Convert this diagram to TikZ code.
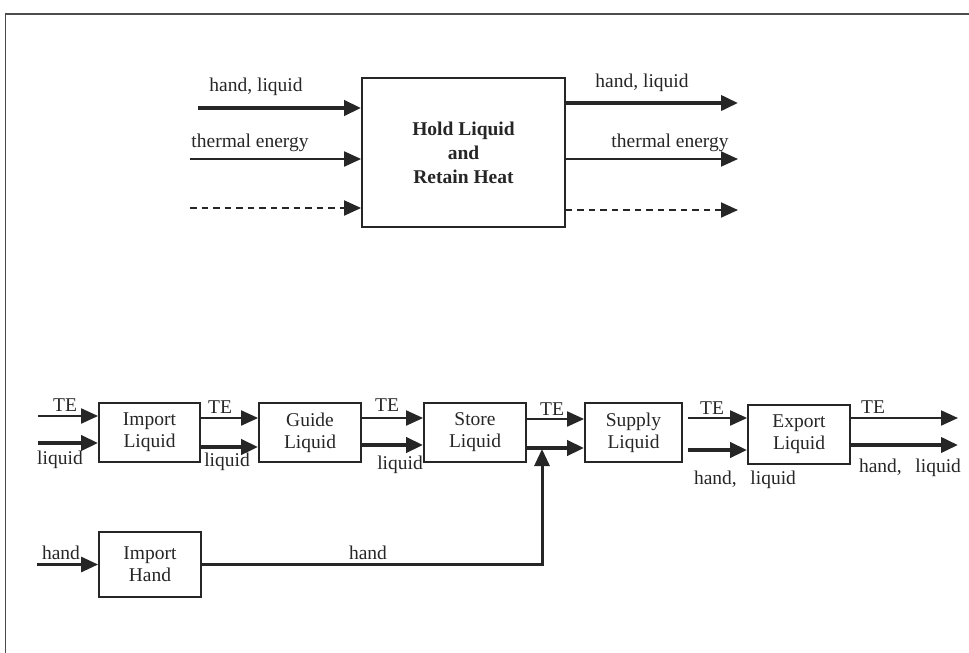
\documentclass[tikz,border=0pt]{standalone}
\usepackage{fontspec}
\setmainfont{Liberation Serif}
\usetikzlibrary{arrows.meta}
\begin{document}
\begin{tikzpicture}[x=1pt,y=-1pt,
  txt/.style={font=\fontsize{19.5}{22}\selectfont, text=black!85},
  box/.style={txt, draw=black!85, line width=1.8pt, align=center, inner sep=0pt},
  lbl/.style={txt, inner sep=0pt},
  tipk/.style={-{Triangle[length=17pt,width=15pt]}},
  flowthin/.style={tipk, line width=2pt, draw=black!85},
  flowthick/.style={tipk, line width=3.8pt, draw=black!85},
  flowdash/.style={tipk, line width=2pt, draw=black!85, dash pattern=on 6.5pt off 5pt}
]
\useasboundingbox (0,0) rectangle (969,653);
% frame
\coordinate (f1) at (969,14);
\coordinate (f2) at (5.5,14);
\coordinate (f3) at (5.5,653);
\draw[black!70, line width=1.6pt] (f1) -- (f2) -- (f3);

% ---------- top function ----------
\node[box, font=\bfseries\fontsize{19.5}{24}\selectfont, minimum width=203pt, minimum height=149pt] (hold) at (463.5,152.5) {Hold Liquid\\and\\Retain Heat};

\coordinate (a1) at (198,108);
\coordinate (a2) at (190,159);
\coordinate (a3) at (190,208);
\draw[flowthick] (a1) -- (a1 -| hold.west);
\draw[flowthin] (a2) -- (a2 -| hold.west);
\draw[flowdash] (a3) -- (a3 -| hold.west);
\node[lbl] (ta1) at (256,87) {hand, liquid};
\node[lbl] (ta2) at (250,143) {thermal energy};

\coordinate (b1) at (738,103);
\coordinate (b2) at (738,159);
\coordinate (b3) at (738,210);
\draw[flowthick] (hold.east |- b1) -- (b1);
\draw[flowthin] (hold.east |- b2) -- (b2);
\draw[flowdash] (hold.east |- b3) -- (b3);
\node[lbl] (tb1) at (642,83) {hand, liquid};
\node[lbl] (tb2) at (670,143) {thermal energy};

% ---------- lower chain ----------
\node[box, minimum width=101pt, minimum height=59pt] (imp) at (149.5,432.5) {Import\\Liquid};
\node[box, minimum width=102pt, minimum height=59pt] (gui) at (310,432.5) {Guide\\Liquid};
\node[box, minimum width=102pt, minimum height=59pt] (sto) at (475,432.5) {Store\\Liquid};
\node[box, minimum width=97pt, minimum height=59pt] (sup) at (633.5,432.5) {Supply\\Liquid};
\node[box, minimum width=102pt, minimum height=59pt] (exp) at (799,434.5) {Export\\Liquid};
\node[box, minimum width=102pt, minimum height=65pt] (ih) at (150,564.5) {Import\\Hand};

% inputs to Import Liquid
\coordinate (c1) at (38,416);
\coordinate (c2) at (38,443);
\draw[flowthin] (c1) -- (c1 -| imp.west);
\draw[flowthick] (c2) -- (c2 -| imp.west);
\node[lbl] (tc1) at (65,405) {TE};
\node[lbl] (tc2) at (60,460) {liquid};

% Import -> Guide
\coordinate (d1) at (0,418);
\coordinate (d2) at (0,447);
\draw[flowthin] (imp.east |- d1) -- (gui.west |- d1);
\draw[flowthick] (imp.east |- d2) -- (gui.west |- d2);
\node[lbl] (td1) at (220,407) {TE};
\node[lbl] (td2) at (227,462) {liquid};

% Guide -> Store
\coordinate (e1) at (0,418);
\coordinate (e2) at (0,445);
\draw[flowthin] (gui.east |- e1) -- (sto.west |- e1);
\draw[flowthick] (gui.east |- e2) -- (sto.west |- e2);
\node[lbl] (te1) at (387,405) {TE};
\node[lbl] (te2) at (400,465) {liquid};

% Store -> Supply
\coordinate (g1) at (0,419);
\coordinate (g2) at (0,448);
\draw[flowthin] (sto.east |- g1) -- (sup.west |- g1);
\draw[flowthick] (sto.east |- g2) -- (sup.west |- g2);
\node[lbl] (tg1) at (552,409) {TE};

% Supply -> Export
\coordinate (k1) at (0,418);
\coordinate (k2) at (0,450);
\draw[flowthin] ([xshift=5pt]sup.east |- k1) -- (exp.west |- k1);
\draw[flowthick] ([xshift=5pt]sup.east |- k2) -- (exp.west |- k2);
\node[lbl] (tk1) at (712,408) {TE};
\node[lbl] (tk2) at (745,480) {hand,\hspace{0.7em}liquid};

% Export outputs
\coordinate (m1) at (958,418);
\coordinate (m2) at (958,445);
\draw[flowthin] (exp.east |- m1) -- (m1);
\draw[flowthick] (exp.east |- m2) -- (m2);
\node[lbl] (tm1) at (873,407) {TE};
\node[lbl] (tm2) at (910,468) {hand,\hspace{0.7em}liquid};

% Import Hand
\coordinate (h0) at (37,564.5);
\draw[tipk, line width=2.8pt, draw=black!85] (h0) -- (ih.west);
\node[lbl] (th0) at (61,553) {hand};
\coordinate (jn) at (542,449);
\draw[tipk, line width=3pt, draw=black!85] (ih.east) -| (jn);
\node[lbl] (th1) at (368,553) {hand};
\end{tikzpicture}
\end{document}
